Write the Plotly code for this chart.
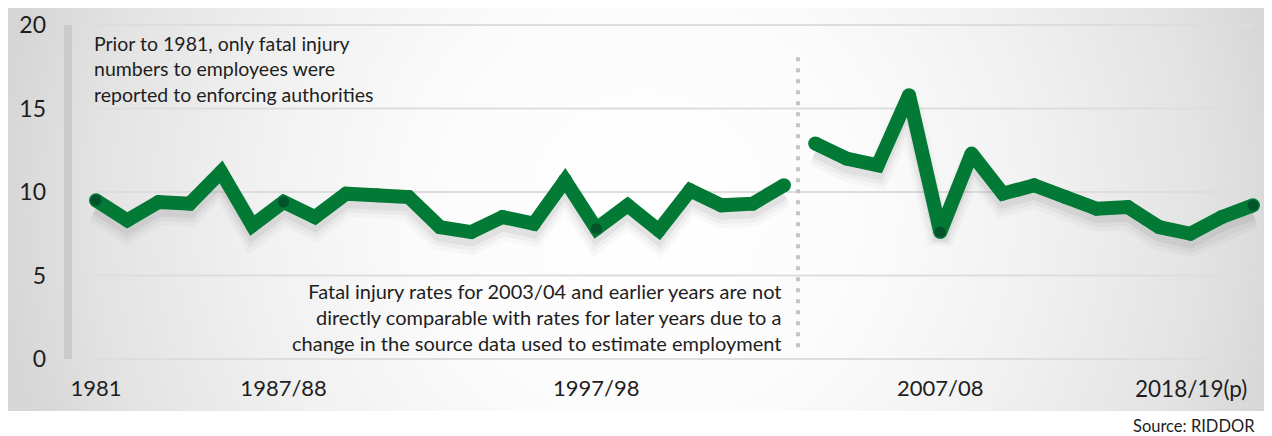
import base64
import plotly.graph_objects as go

# ---------------- data ----------------
years_a = ["1981", "1982", "1983", "1984", "1985", "1986/87", "1987/88", "1988/89",
           "1989/90", "1990/91", "1991/92", "1992/93", "1993/94", "1994/95", "1995/96",
           "1996/97", "1997/98", "1998/99", "1999/00", "2000/01", "2001/02", "2002/03",
           "2003/04"]
rates_a = [9.5, 8.3, 9.4, 9.3, 11.2, 8.0, 9.4, 8.5, 9.9, 9.8, 9.7, 7.9, 7.6, 8.5, 8.1,
           10.7, 7.8, 9.2, 7.7, 10.1, 9.2, 9.3, 10.4]
years_b = ["2004/05", "2005/06", "2006/07", "2007/08", "2008/09", "2009/10", "2010/11",
           "2011/12", "2012/13", "2013/14", "2014/15", "2015/16", "2016/17", "2017/18",
           "2018/19(p)"]
rates_b = [12.9, 12.0, 11.6, 15.8, 7.6, 12.3, 9.9, 10.4, 9.7, 9.0, 9.1, 7.9, 7.5, 8.5, 9.2]

tick_years = ["1981", "1987/88", "1997/98", "2008/09"]
tick_text = ["1981", "1987/88", "1997/98", "2007/08"]
last_label = "2018/19(p)"
y_ticks = [0, 5, 10, 15, 20]

note_top = "Prior to 1981, only fatal injury<br>numbers to employees were<br>reported to enforcing authorities"
note_bottom = ("Fatal injury rates for 2003/04 and earlier years are not<br>"
               "directly comparable with rates for later years due to a<br>"
               "change in the source data used to estimate employment")
source = "Source: RIDDOR"

# ---------------- styles ----------------
GREEN = "#027a36"
DARK = "#01532a"
FONT = "Lato"
TXT = "#1e1e1e"

years = years_a + years_b
pos = {y: i for i, y in enumerate(years)}
xa = [pos[y] for y in years_a]
xb = [pos[y] for y in years_b]
all_rates = dict(zip(years, rates_a + rates_b))
dot_x = [pos[y] for y in tick_years] + [pos[years_b[-1]]]
dot_y = [all_rates[years[i]] for i in dot_x]

# figure geometry (figure pixel coords; page adds an 8px body margin)
W, H = 1264, 428
L, R, T = 69, 2, 8
PW = W - L - R
XPU = 31.27          # px per category
YPU = 16.7           # px per unit
X0PX = 88            # pixel of first category
Y20PX = 17           # pixel of y = 20
XR = [-(X0PX - L) / XPU, -(X0PX - L) / XPU + PW / XPU]
YR = [-0.6, 20 + (Y20PX - T) / YPU]
PH = round((YR[1] - YR[0]) * YPU)
B = H - T - PH

fig = go.Figure()

# soft shadow under the line
for xs, ys in [(xa, rates_a), (xb, rates_b)]:
    for off, w, a in [(0.6, 26, 0.025), (0.52, 20, 0.035), (0.45, 14, 0.05)]:
        fig.add_trace(go.Scatter(x=xs, y=[v - off for v in ys], mode="lines",
                                 line=dict(color=f"rgba(0,0,0,{a})", width=w),
                                 hoverinfo="skip", showlegend=False))

for xs, ys in [(xa, rates_a), (xb, rates_b)]:
    fig.add_trace(go.Scatter(x=xs, y=ys, mode="lines+markers",
                             line=dict(color=GREEN, width=14),
                             marker=dict(color=GREEN, size=14, line=dict(width=0)),
                             cliponaxis=False, showlegend=False))

fig.add_trace(go.Scatter(x=dot_x, y=dot_y, mode="markers",
                         marker=dict(color=DARK, size=11, line=dict(width=0)),
                         cliponaxis=False, showlegend=False))

# grid lines
shapes = []
for v in y_ticks:
    shapes.append(dict(type="line", xref="x", yref="y", x0=0, x1=len(years) - 1, y0=v, y1=v,
                       line=dict(color="#dddddd", width=2), layer="below"))
def py(v):
    return (v - YR[0]) / (YR[1] - YR[0])
# grey vertical bar on left
shapes.append(dict(type="rect", xref="paper", yref="paper", x0=(56 - L) / PW, x1=(64 - L) / PW,
                   y0=py(0), y1=py(20), fillcolor="#cbcbcb", line=dict(width=0), layer="below"))
# dotted separator
shapes.append(dict(type="line", xref="x", yref="y", x0=22.45, x1=22.45, y0=0.7, y1=18.4,
                   line=dict(color="#c4c4c4", width=4, dash="4px,7px")))

svg = ('<svg xmlns="http://www.w3.org/2000/svg" width="1264" height="404" viewBox="0 0 1264 404" '
       'preserveAspectRatio="none"><defs><radialGradient id="g" gradientUnits="userSpaceOnUse" '
       'cx="640" cy="200" r="650"><stop offset="0" stop-color="#ffffff"/>'
       '<stop offset="0.35" stop-color="#fbfbfb"/><stop offset="0.6" stop-color="#f1f1f1"/>'
       '<stop offset="0.85" stop-color="#e3e3e3"/><stop offset="1" stop-color="#d6d6d6"/>'
       '</radialGradient></defs><rect width="1264" height="404" fill="url(#g)"/></svg>')
src = "data:image/svg+xml;base64," + base64.b64encode(svg.encode()).decode()

fig.add_layout_image(dict(source=src, xref="paper", yref="paper",
                          x=-L / PW, y=1 + T / PH,
                          sizex=1264 / PW, sizey=403 / PH,
                          xanchor="left", yanchor="top", sizing="stretch", layer="below"))

fig.update_layout(
    width=W, height=H,
    margin=dict(l=L, r=R, t=T, b=B, autoexpand=False),
    paper_bgcolor="white", plot_bgcolor="rgba(0,0,0,0)",
    font=dict(family=FONT, color=TXT),
    shapes=shapes,
    xaxis=dict(range=XR, showgrid=False, zeroline=False, showline=False, automargin=False,
               tickvals=[pos[y] for y in tick_years], ticktext=tick_text,
               tickfont=dict(size=22, color=TXT), ticks="", ticklabelstandoff=4),
    yaxis=dict(range=YR, showgrid=False, zeroline=False, showline=False, automargin=False,
               tickvals=y_ticks, tickfont=dict(size=23, color=TXT), ticks="",
               ticklabelstandoff=30),
    annotations=[
        dict(text=note_top, xref="x", yref="y", x=0, y=19.7, xanchor="left", yanchor="top",
             xshift=-4, align="left", showarrow=False, font=dict(size=19.5, color=TXT)),
        dict(text=note_bottom, xref="x", yref="y", x=21.87, y=2.5, xanchor="right",
             yanchor="middle", xshift=3, align="right", showarrow=False,
             font=dict(size=20, color=TXT)),
        dict(text=last_label, xref="x", yref="paper", x=len(years) - 1, y=0, xanchor="right",
             yanchor="top", xshift=-4, yshift=-4, showarrow=False, font=dict(size=22.5, color=TXT)),
        dict(text=source, xref="paper", yref="paper", x=(1123 - L) / PW, y=-(418 - T - PH) / PH,
             xanchor="left", yanchor="middle", showarrow=False, font=dict(size=16.5, color=TXT)),
    ],
)

fig.write_html("out.html")
